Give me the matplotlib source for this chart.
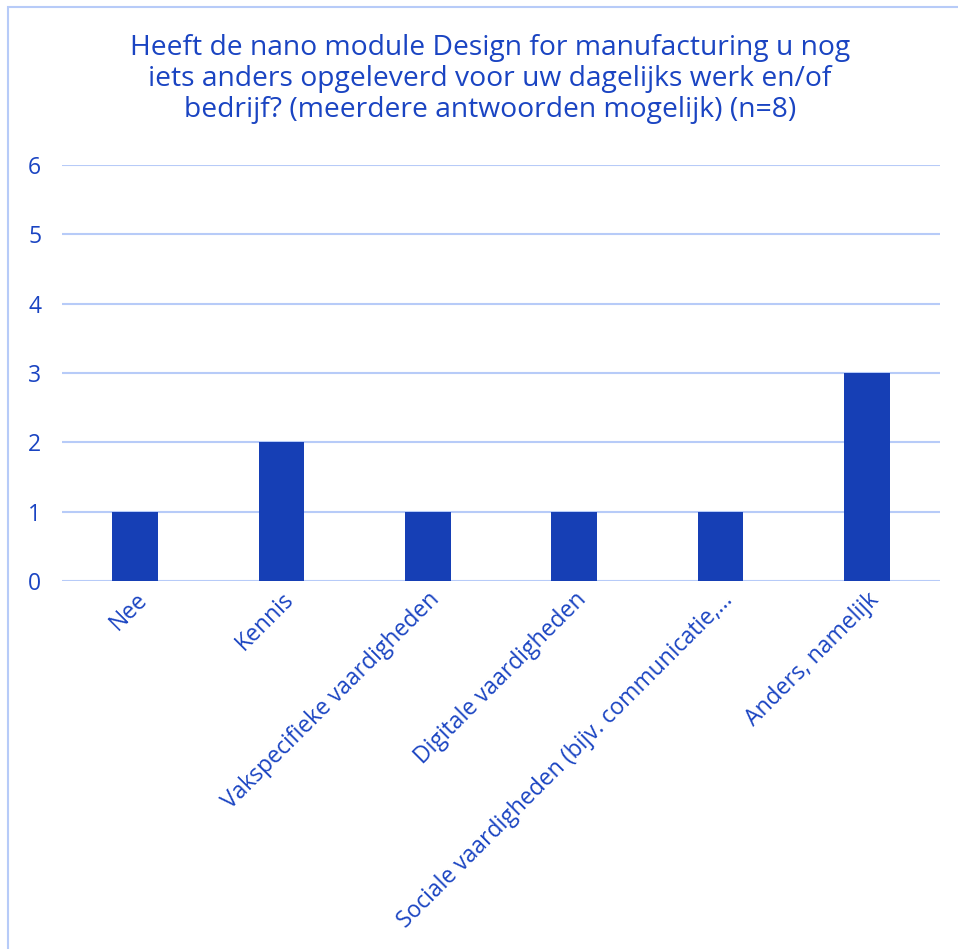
import matplotlib.pyplot as plt
from matplotlib.patches import Rectangle

# %% DATA
categories = ['Nee', 'Kennis', 'Vakspecifieke vaardigheden', 'Digitale vaardigheden',
              'Sociale vaardigheden (bijv. communicatie,...', 'Anders, namelijk']
counts = [1, 2, 1, 1, 1, 3]
title = ('Heeft de nano module Design for manufacturing u nog\n'
         'iets anders opgeleverd voor uw dagelijks werk en/of\n'
         'bedrijf? (meerdere antwoorden mogelijk) (n=8)')

# %% STYLE
TXT = '#1a44c2'
BAR = '#163fb5'
GRID = '#b7cbf8'
plt.rcParams['font.family'] = ['Open Sans', 'DejaVu Sans']

W, H = 958, 949
fig = plt.figure(figsize=(W / 100, H / 100), dpi=100)
# light frame, cut off at the right and bottom like the original
fig.patches.append(Rectangle((8 / W, -0.1), 1.2, 1 - 7 / H + 0.1, transform=fig.transFigure,
                             fill=False, edgecolor=GRID, lw=1.5))

ax = fig.add_axes([62 / W, (H - 581) / H, (940 - 62) / W, (581 - 165) / H])
x = range(len(categories))
ax.bar(x, counts, width=0.31, color=BAR, zorder=3)
ax.set_xlim(-0.5, len(categories) - 0.5)
ax.set_ylim(0, 6)
ax.set_yticks(range(7))
ax.yaxis.grid(True, color=GRID, lw=1.5, zorder=0)
for s in ax.spines.values():
    s.set_visible(False)
ax.tick_params(axis='both', length=0, labelcolor=TXT, labelsize=16.5)
ax.tick_params(axis='y', pad=15)
ax.tick_params(axis='x', pad=5)
ax.set_xticks(list(x))
ax.set_xticklabels(categories, rotation=45, ha='right', rotation_mode='anchor')

fig.text(490 / W, 1 - 79 / H, title, ha='center', va='center', color=TXT,
         fontsize=20.3, linespacing=1.13)

plt.savefig('out.png', dpi=100)
